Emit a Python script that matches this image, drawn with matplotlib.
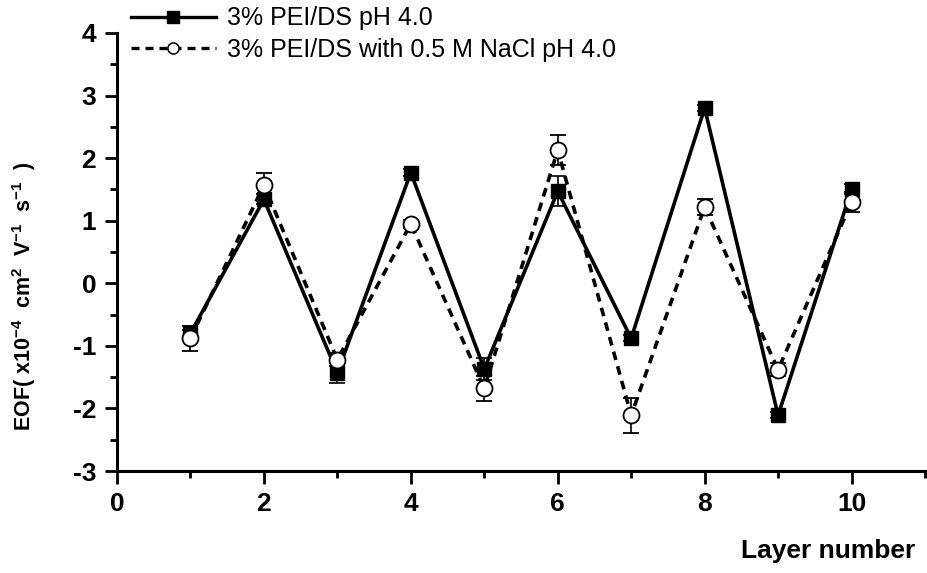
import matplotlib
matplotlib.use("Agg")
import matplotlib.pyplot as plt
from matplotlib.ticker import MultipleLocator
from matplotlib.lines import Line2D

plt.rcParams['font.family'] = ['Liberation Sans', 'DejaVu Sans']
plt.rcParams['mathtext.fontset'] = 'custom'
plt.rcParams['mathtext.bf'] = 'Liberation Sans:bold'
plt.rcParams['mathtext.rm'] = 'Liberation Sans:bold'
plt.rcParams['axes.unicode_minus'] = False

layers = [1, 2, 3, 4, 5, 6, 7, 8, 9, 10]

# EOF mobility, 3% PEI/DS at pH 4.0
eof_plain = [-0.80, 1.34, -1.43, 1.77, -1.37, 1.47, -0.88, 2.80, -2.11, 1.50]
err_plain = [0.06, 0.08, 0.16, 0.05, 0.17, 0.24, 0.05, 0.05, 0.05, 0.08]

# EOF mobility, 3% PEI/DS with 0.5 M NaCl at pH 4.0
eof_salt = [-0.88, 1.57, -1.22, 0.95, -1.68, 2.13, -2.11, 1.22, -1.38, 1.30]
err_salt = [0.20, 0.20, 0.10, 0.06, 0.20, 0.24, 0.28, 0.13, 0.10, 0.16]

labels = ["3% PEI/DS pH 4.0", "3% PEI/DS with 0.5 M NaCl pH 4.0"]

fig = plt.figure(figsize=(9.27, 5.73), dpi=100)
ax = fig.add_axes([117 / 927, 1 - 471 / 573, (925 - 117) / 927, (471 - 33) / 573])

dash = (0, (2.4, 1.8))
ax.errorbar(layers, eof_plain, yerr=err_plain, color='black', lw=2.6,
            marker='s', ms=10.5, mfc='black', mec='black',
            ecolor='black', elinewidth=1.2, capsize=6, capthick=1.2, zorder=3)
ax.errorbar(layers, eof_salt, yerr=err_salt, color='black', lw=2.6,
            ls=dash, marker='o', ms=11.5, mfc='white', mec='black',
            mew=1.3, ecolor='black', elinewidth=1.2, capsize=6, capthick=1.2,
            zorder=4)

ax.set_xlim(0, 11)
ax.set_ylim(-3, 4)
ax.xaxis.set_major_locator(MultipleLocator(2))
ax.xaxis.set_minor_locator(MultipleLocator(1))
ax.yaxis.set_major_locator(MultipleLocator(1))
ax.yaxis.set_minor_locator(MultipleLocator(0.5))

for side in ('top', 'right'):
    ax.spines[side].set_visible(False)
for side in ('left', 'bottom'):
    ax.spines[side].set_linewidth(2.2)

ax.tick_params(which='major', direction='out', length=9, width=2, labelsize=19, pad=6)
ax.tick_params(which='minor', direction='out', length=5, width=2)
for lab in ax.get_xticklabels() + ax.get_yticklabels():
    lab.set_fontweight('bold')

ax.set_ylabel(r"EOF( x10$^{-4}$  cm$^{2}$  V$^{-1}$  s$^{-1}$  )",
              fontsize=15.5, fontweight='bold')
ax.yaxis.set_label_coords(-0.098, 0.40)
fig.text(828 / 927, 1 - 551 / 573, "Layer number", fontsize=19,
         fontweight='bold', ha='center', va='center')

handles = [
    Line2D([], [], color='black', lw=2.4, marker='s', ms=8, mfc='black', mec='black'),
    Line2D([], [], color='black', lw=2.4, ls=dash, marker='o', ms=8, mfc='white',
           mec='black', mew=1.1),
]
ax.legend(handles, labels, loc='upper left', bbox_to_anchor=(128 / 927, 1 - 4 / 573),
          bbox_transform=fig.transFigure, frameon=False, fontsize=18,
          handlelength=3.4, handletextpad=0.45, labelspacing=0.3,
          borderpad=0.1, borderaxespad=0)

fig.savefig("out.png", dpi=100)
